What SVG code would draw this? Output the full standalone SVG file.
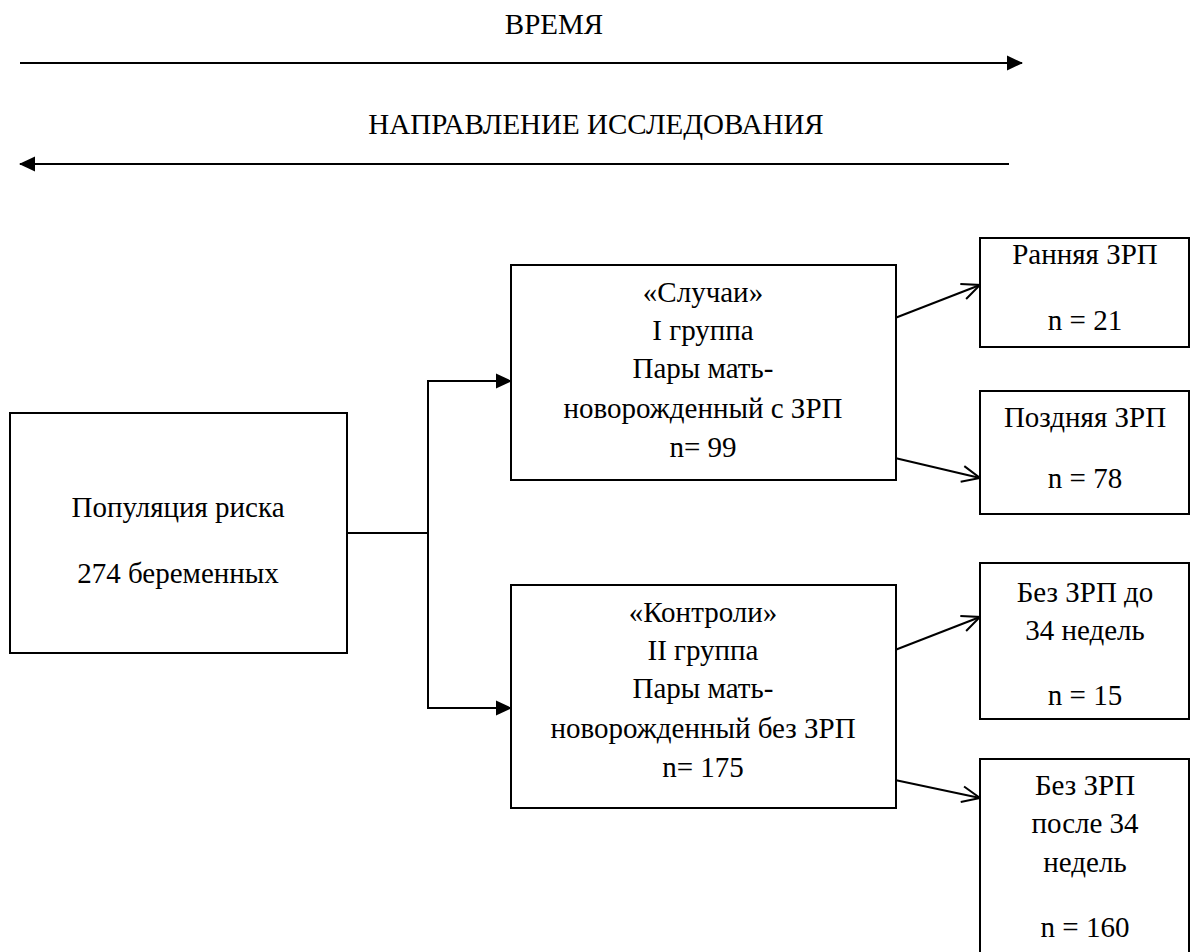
<svg xmlns="http://www.w3.org/2000/svg" width="1198" height="952" viewBox="0 0 1198 952">
<style>
text{font-family:"Liberation Serif","Times New Roman",serif;font-size:29px;fill:#000;text-anchor:middle}
.box{fill:#fff;stroke:#000;stroke-width:2}
.ln{fill:none;stroke:#000;stroke-width:2}
</style>
<defs>
<marker id="fa" viewBox="0 0 16 16" refX="15" refY="8" markerWidth="16" markerHeight="16" markerUnits="userSpaceOnUse" orient="auto">
<path d="M0,0.5 L16,8 L0,15.5 z" fill="#000"/>
</marker>
<marker id="oa" viewBox="0 0 20 20" refX="19" refY="10" markerWidth="20" markerHeight="20" markerUnits="userSpaceOnUse" orient="auto">
<path d="M1,2 L19,10 L1,18" fill="none" stroke="#000" stroke-width="2"/>
</marker>
</defs>
<g id="header">
<text x="554" y="34">ВРЕМЯ</text>
<text x="596" y="134">НАПРАВЛЕНИЕ ИССЛЕДОВАНИЯ</text>
</g>
<g id="connectors">
<line class="ln" x1="20" y1="63" x2="1022" y2="63" marker-end="url(#fa)"/>
<line class="ln" x1="1009" y1="164" x2="20" y2="164" marker-end="url(#fa)"/>
<polyline class="ln" points="347,533 428,533"/>
<polyline class="ln" points="428,381 428,708"/>
<line class="ln" x1="427" y1="381" x2="511" y2="381" marker-end="url(#fa)"/>
<line class="ln" x1="427" y1="708" x2="511" y2="708" marker-end="url(#fa)"/>
<line class="ln" x1="895" y1="318" x2="980" y2="285" marker-end="url(#oa)"/>
<line class="ln" x1="895" y1="458" x2="980" y2="478" marker-end="url(#oa)"/>
<line class="ln" x1="895" y1="650" x2="980" y2="617" marker-end="url(#oa)"/>
<line class="ln" x1="895" y1="780" x2="980" y2="798" marker-end="url(#oa)"/>
</g>
<g id="population">
<rect class="box" x="10" y="413" width="337" height="240"/>
<text x="178" y="517">Популяция риска</text>
<text x="178" y="583">274 беременных</text>
</g>
<g id="cases">
<rect class="box" x="511" y="265" width="385" height="215"/>
<text x="703" y="302">«Случаи»</text>
<text x="703" y="340">I группа</text>
<text x="703" y="378">Пары мать-</text>
<text x="703" y="418">новорожденный с ЗРП</text>
<text x="703" y="457">n= 99</text>
</g>
<g id="controls">
<rect class="box" x="511" y="585" width="385" height="223"/>
<text x="703" y="622">«Контроли»</text>
<text x="703" y="660">II группа</text>
<text x="703" y="698">Пары мать-</text>
<text x="703" y="738">новорожденный без ЗРП</text>
<text x="703" y="777">n= 175</text>
</g>
<g id="early">
<rect class="box" x="980" y="238" width="209" height="109"/>
<text x="1085" y="264">Ранняя ЗРП</text>
<text x="1085" y="330">n = 21</text>
</g>
<g id="late">
<rect class="box" x="980" y="391" width="209" height="123"/>
<text x="1085" y="427">Поздняя ЗРП</text>
<text x="1085" y="488">n = 78</text>
</g>
<g id="before34">
<rect class="box" x="980" y="563" width="209" height="156"/>
<text x="1085" y="602">Без ЗРП до</text>
<text x="1085" y="640">34 недель</text>
<text x="1085" y="705">n = 15</text>
</g>
<g id="after34">
<rect class="box" x="980" y="759" width="209" height="210"/>
<text x="1085" y="795">Без ЗРП</text>
<text x="1085" y="833">после 34</text>
<text x="1085" y="872">недель</text>
<text x="1085" y="937">n = 160</text>
</g>
</svg>
